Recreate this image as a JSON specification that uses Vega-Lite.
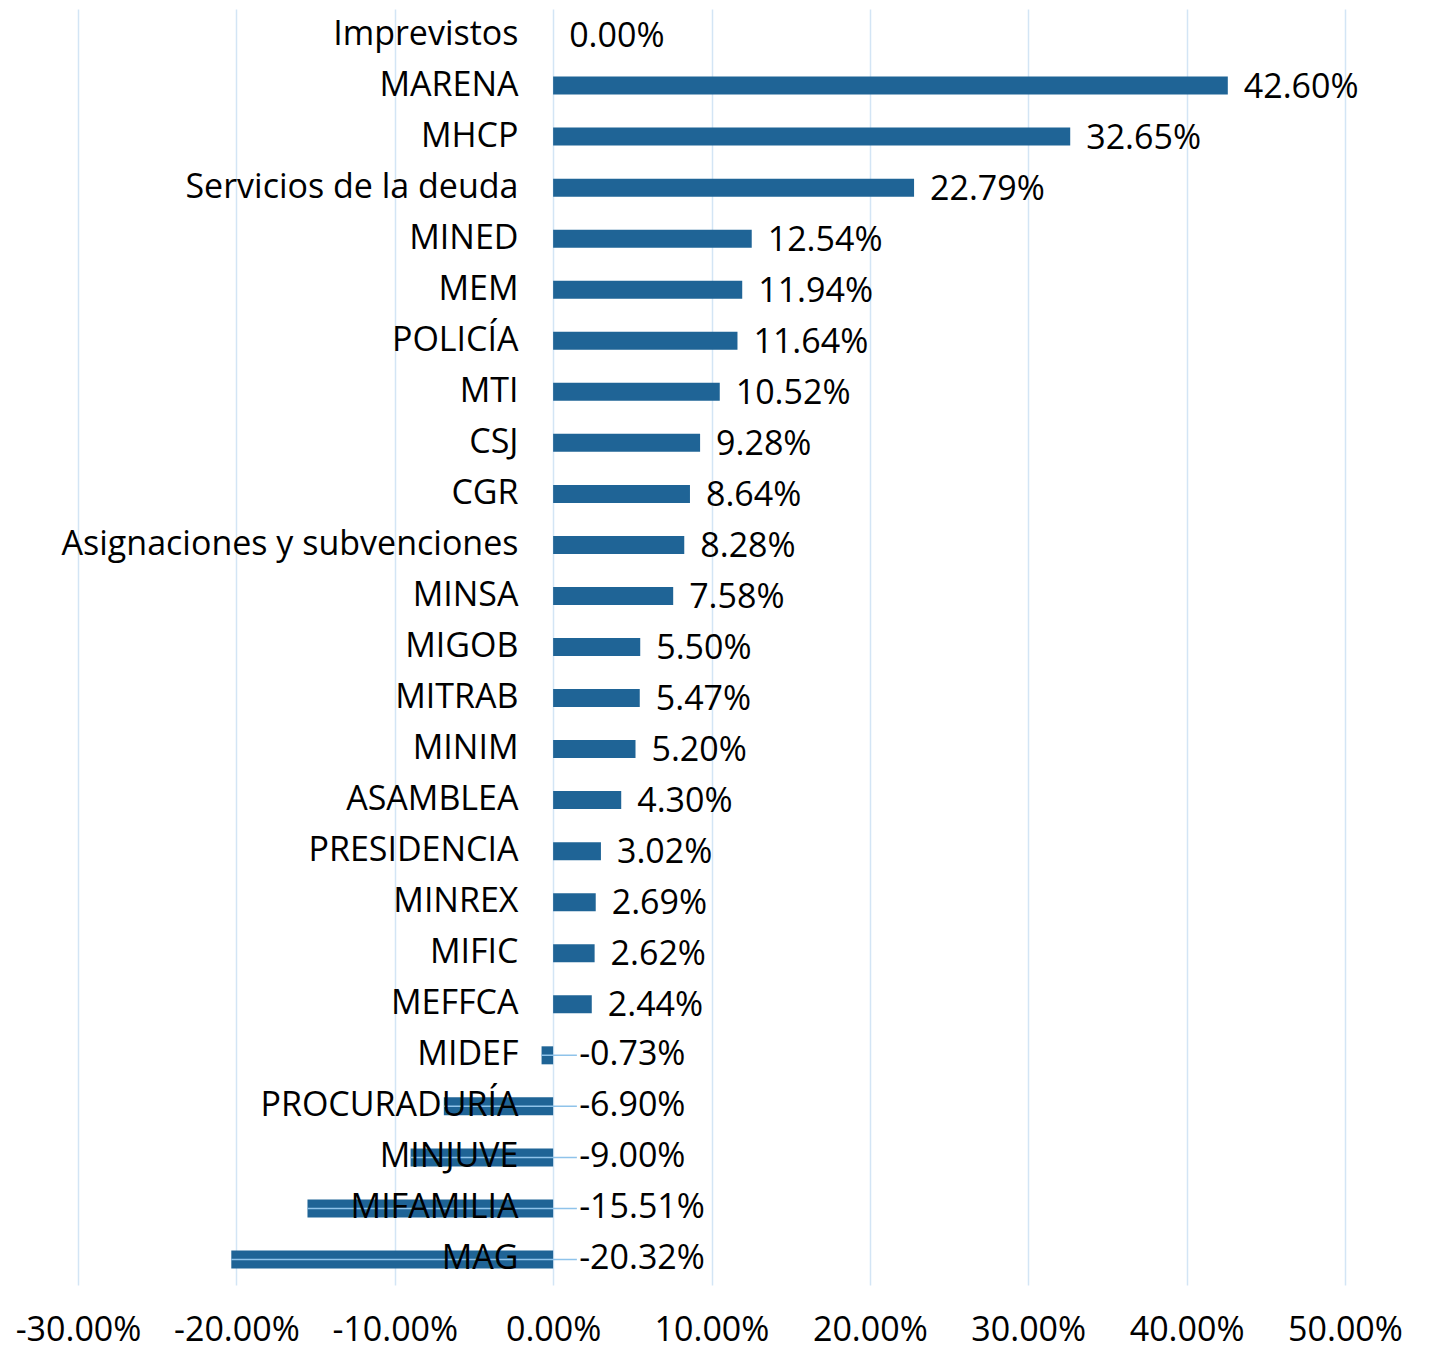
{
  "$schema": "https://vega.github.io/schema/vega-lite/v6.json",
  "width": 1267,
  "height": 1276,
  "autosize": {"type": "none"},
  "padding": {"left": 78, "top": 9, "right": 84, "bottom": 62},
  "background": "white",
  "config": {
    "view": {"stroke": null},
    "locale": {"number": {"decimal": ".", "thousands": ",", "grouping": [3], "currency": ["$", ""], "minus": "-"}},
    "font": "Open Sans"
  },
  "data": {
    "values": [
      {"name": "Imprevistos", "value": 0.0},
      {"name": "MARENA", "value": 0.4260},
      {"name": "MHCP", "value": 0.3265},
      {"name": "Servicios de la deuda", "value": 0.2279},
      {"name": "MINED", "value": 0.1254},
      {"name": "MEM", "value": 0.1194},
      {"name": "POLICÍA", "value": 0.1164},
      {"name": "MTI", "value": 0.1052},
      {"name": "CSJ", "value": 0.0928},
      {"name": "CGR", "value": 0.0864},
      {"name": "Asignaciones y subvenciones", "value": 0.0828},
      {"name": "MINSA", "value": 0.0758},
      {"name": "MIGOB", "value": 0.0550},
      {"name": "MITRAB", "value": 0.0547},
      {"name": "MINIM", "value": 0.0520},
      {"name": "ASAMBLEA", "value": 0.0430},
      {"name": "PRESIDENCIA", "value": 0.0302},
      {"name": "MINREX", "value": 0.0269},
      {"name": "MIFIC", "value": 0.0262},
      {"name": "MEFFCA", "value": 0.0244},
      {"name": "MIDEF", "value": -0.0073},
      {"name": "PROCURADURÍA", "value": -0.0690},
      {"name": "MINJUVE", "value": -0.0900},
      {"name": "MIFAMILIA", "value": -0.1551},
      {"name": "MAG", "value": -0.2032}
    ]
  },
  "encoding": {
    "y": {
      "field": "name",
      "type": "nominal",
      "sort": null,
      "scale": {"paddingInner": 0, "paddingOuter": 0},
      "axis": {
        "title": null,
        "domain": false,
        "ticks": false,
        "grid": false,
        "labelFont": "Open Sans",
        "labelFontSize": 34,
        "labelColor": "black",
        "labelPadding": 35,
        "labelLimit": 600,
        "offset": -475,
        "zindex": 1
      }
    }
  },
  "layer": [
    {
      "mark": {"type": "bar", "color": "#1f6496", "size": 18},
      "encoding": {
        "x": {
          "field": "value",
          "type": "quantitative",
          "scale": {"domain": [-0.3, 0.5], "nice": false, "zero": false},
          "axis": {
            "title": null,
            "values": [-0.3, -0.2, -0.1, 0, 0.1, 0.2, 0.3, 0.4, 0.5],
            "format": ".2%",
            "domain": false,
            "ticks": false,
            "grid": true,
            "gridColor": "#d3e5f5",
            "gridWidth": 1.5,
            "labelFont": "Open Sans",
            "labelFontSize": 34,
            "labelColor": "black",
            "labelPadding": 28,
            "labelFlush": false,
            "zindex": 0
          }
        }
      }
    },
    {
      "transform": [{"filter": "datum.value < 0"}],
      "mark": {"type": "rule", "color": "#8fc3ea", "strokeWidth": 1.5},
      "encoding": {
        "x": {"field": "value", "type": "quantitative"},
        "x2": {"datum": 0.015}
      }
    },
    {
      "transform": [{"filter": "datum.value >= 0"}],
      "mark": {"type": "text", "align": "left", "baseline": "middle", "dx": 16, "dy": 2, "fontSize": 34, "font": "Open Sans", "color": "black"},
      "encoding": {
        "x": {"field": "value", "type": "quantitative"},
        "text": {"field": "value", "type": "quantitative", "format": ".2%"}
      }
    },
    {
      "transform": [{"filter": "datum.value < 0"}],
      "mark": {"type": "text", "align": "left", "baseline": "middle", "dx": 26, "dy": 0, "fontSize": 34, "font": "Open Sans", "color": "black"},
      "encoding": {
        "x": {"datum": 0},
        "text": {"field": "value", "type": "quantitative", "format": ".2%"}
      }
    }
  ]
}
